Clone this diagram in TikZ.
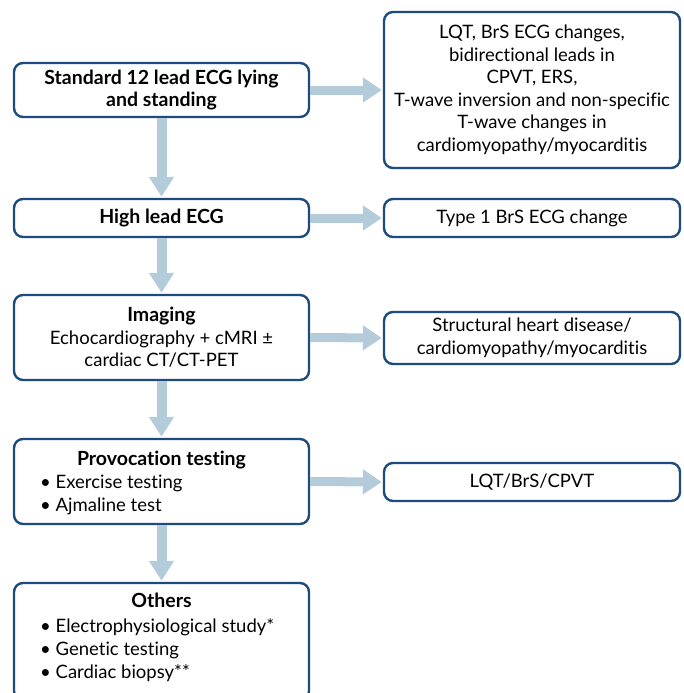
\documentclass[tikz,border=0pt]{standalone}
\usepackage{fontspec}
\setmainfont[Ligatures=CommonOff]{Lato}
\usetikzlibrary{arrows.meta}
\definecolor{boxc}{HTML}{1D4B80}
\definecolor{arrc}{HTML}{B4CBD9}
\newcommand{\hd}[1]{{\fontsize{19.5}{22.5}\selectfont\bfseries #1}}
\begin{document}
\begin{tikzpicture}[x=1pt,y=-1pt,
  box/.style={draw=boxc,line width=2.4pt,rounded corners=9pt,fill=white,minimum width=#1,inner sep=0pt,align=center,font=\fontsize{18.5}{22.5}\selectfont},
  box/.default=295pt,
  txt/.style={inner sep=0pt,font=\fontsize{18.5}{22.5}\selectfont},
  harr/.style={draw=arrc,line width=9pt,-{Triangle[length=19pt,width=24pt]},shorten >=1pt},
  varr/.style={draw=arrc,line width=10pt,-{Triangle[length=20pt,width=24pt]},shorten >=1pt}]
\useasboundingbox (0,0) rectangle (684,693);
% left boxes
\node[box,minimum height=54pt] (b1) at (161.5,90) {\hd{Standard 12 lead ECG lying}\\\hd{and standing}};
\node[box,minimum height=38pt] (b2) at (161.5,218) {\hd{High lead ECG}};
\node[box,minimum height=85pt] (b3) at (161.5,337.5) {\hd{Imaging}\\Echocardiography + cMRI ±\\cardiac CT/CT-PET};
\node[box,minimum height=85pt] (b4) at (161.5,481.5) {};
\node[box,minimum height=117pt] (b5) at (161.5,641.5) {};
% right boxes
\node[box=296pt,minimum height=156pt] (r1) at (532,90) {LQT, BrS ECG changes,\\bidirectional leads in\\CPVT, ERS,\\T-wave inversion and non-specific\\T-wave changes in\\cardiomyopathy/myocarditis};
\node[box=296pt,minimum height=38pt] (r2) at (532,218) {Type 1 BrS ECG change};
\node[box=296pt,minimum height=52pt] (r3) at (532,338) {Structural heart disease/\\cardiomyopathy/myocarditis};
\node[box=296pt,minimum height=38pt] (r4) at (532,482) {LQT/BrS/CPVT};
% bullet texts
\node[txt,anchor=base] (t4) at (161.5,465) {\hd{Provocation testing}};
\node[txt,anchor=base west] (t4a) at (40,488) {• Exercise testing};
\node[txt,anchor=base west] (t4b) at (40,511) {• Ajmaline test};
\node[txt,anchor=base] (t5) at (161.5,607) {\hd{Others}};
\node[txt,anchor=base west] (t5a) at (40,632) {• Electrophysiological study*};
\node[txt,anchor=base west] (t5b) at (40,655) {• Genetic testing};
\node[txt,anchor=base west] (t5c) at (40,678) {• Cardiac biopsy**};
% arrows
\draw[harr] (b1.east) -- (r1.west);
\draw[harr] (b2.east) -- (r2.west);
\draw[harr] (b3.east) -- (r3.west);
\draw[harr] (b4.east) -- (r4.west);
\draw[varr] (b1.south) -- (b2.north);
\draw[varr] (b2.south) -- (b3.north);
\draw[varr] (b3.south) -- (b4.north);
\draw[varr] (b4.south) -- (b5.north);
\end{tikzpicture}
\end{document}
